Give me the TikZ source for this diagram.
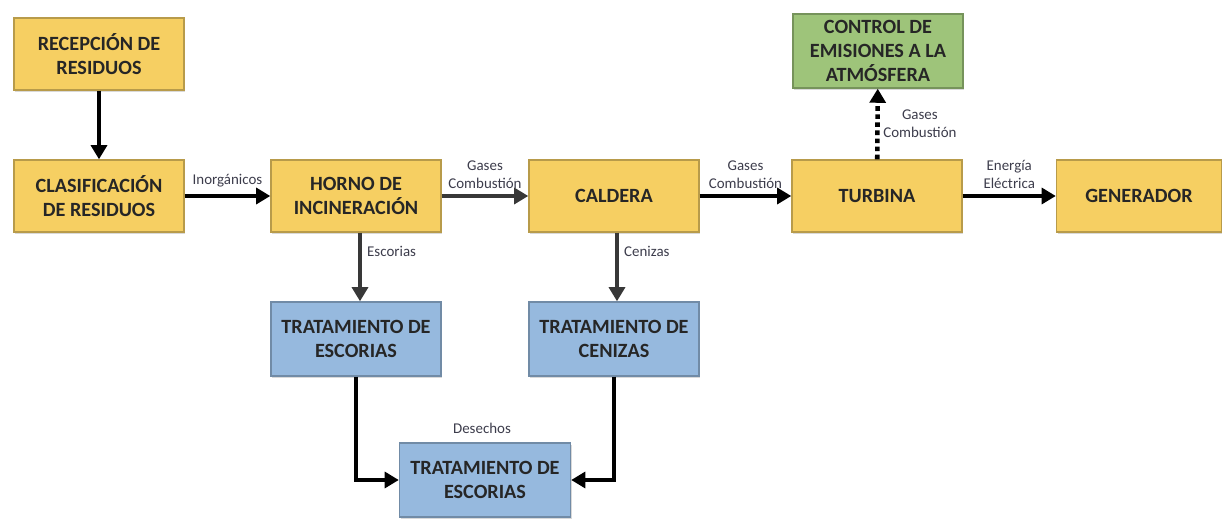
\documentclass[tikz,border=0pt]{standalone}
\usepackage{fontspec}
\setmainfont{Carlito}
\usetikzlibrary{arrows.meta,shadows}

\definecolor{amarillo}{RGB}{246,207,98}
\definecolor{azul}{RGB}{150,185,222}
\definecolor{verde}{RGB}{158,196,122}
\definecolor{texto}{RGB}{38,38,38}
\definecolor{etiq}{RGB}{60,60,75}

\tikzset{
  caja/.style={rectangle, draw=#1!75!black, fill=#1, line width=0.8pt,
    minimum width=3.4cm, minimum height=1.44cm, align=center,
    font=\fontsize{11.5}{13.8}\selectfont\bfseries, text=texto,
    drop shadow={shadow xshift=0.6pt, shadow yshift=-0.9pt, opacity=0.3}},
  etiqueta/.style={font=\fontsize{8.5}{10.2}\selectfont, text=etiq, align=center, inner sep=1pt},
  flecha/.style={line width=2.2pt, -{Triangle[length=8pt,width=9pt]}},
  flechagris/.style={flecha, draw=black!78, color=black!78}
}

\begin{document}
\begin{tikzpicture}
            \useasboundingbox (0,0) rectangle (24.44,-10.4);

            % Cajas
            \node[caja=amarillo] (recep) at (1.98,-1.08) {RECEPCIÓN DE\\RESIDUOS};
            \node[caja=amarillo] (clasif) at (1.98,-3.92) {CLASIFICACIÓN\\DE RESIDUOS};
            \node[caja=amarillo] (horno) at (7.12,-3.92) {HORNO DE\\INCINERACIÓN};
            \node[caja=amarillo] (caldera) at (12.28,-3.92) {CALDERA};
            \node[caja=amarillo] (turbina) at (17.54,-3.92) {TURBINA};
            \node[caja=amarillo, minimum width=3.3cm] (generador) at (22.78,-3.92) {GENERADOR};
            \node[caja=verde, minimum height=1.48cm] (control) at (17.56,-1.02) {CONTROL DE\\EMISIONES A LA\\ATMÓSFERA};
            \node[caja=azul, minimum height=1.48cm] (tratesc) at (7.12,-6.78) {TRATAMIENTO DE\\ESCORIAS};
            \node[caja=azul, minimum height=1.48cm] (tratcen) at (12.28,-6.78) {TRATAMIENTO DE\\CENIZAS};
            \node[caja=azul, minimum height=1.48cm, minimum width=3.42cm] (tratfin) at (9.70,-9.60) {TRATAMIENTO DE\\ESCORIAS};

            % Flechas
            \draw[flecha] (recep) -- (clasif);
            \draw[flecha] (clasif) -- node[etiqueta, above=3pt] {Inorgánicos} (horno);
            \draw[flechagris] (horno) -- node[etiqueta, above=2pt, text=etiq] {Gases\\Combustión} (caldera);
            \draw[flecha] (caldera) -- node[etiqueta, above=2pt] {Gases\\Combustión} (turbina);
            \draw[flecha] (turbina) -- node[etiqueta, above=2pt] {Energía\\Eléctrica} (generador);
            \draw[line width=2.6pt, dotted, -{Triangle[length=8pt,width=9pt]}] (turbina) -- node[etiqueta, right=1pt] {Gases\\Combustión} (control);
            \draw[flechagris] ([xshift=0.08cm]horno.south) -- node[etiqueta, right=2pt, pos=0.27, text=etiq] {Escorias} ([xshift=0.08cm]tratesc.north);
            \draw[flechagris] ([xshift=0.06cm]caldera.south) -- node[etiqueta, right=2pt, pos=0.27, text=etiq] {Cenizas} ([xshift=0.06cm]tratcen.north);
            \draw[flecha] (tratesc.south) |- (tratfin.west);
            \draw[flecha] (tratcen.south) |- (tratfin.east);

            % Etiqueta suelta
            \node[etiqueta] (desechos) at (9.64,-8.56) {Desechos};
\end{tikzpicture}
\end{document}
